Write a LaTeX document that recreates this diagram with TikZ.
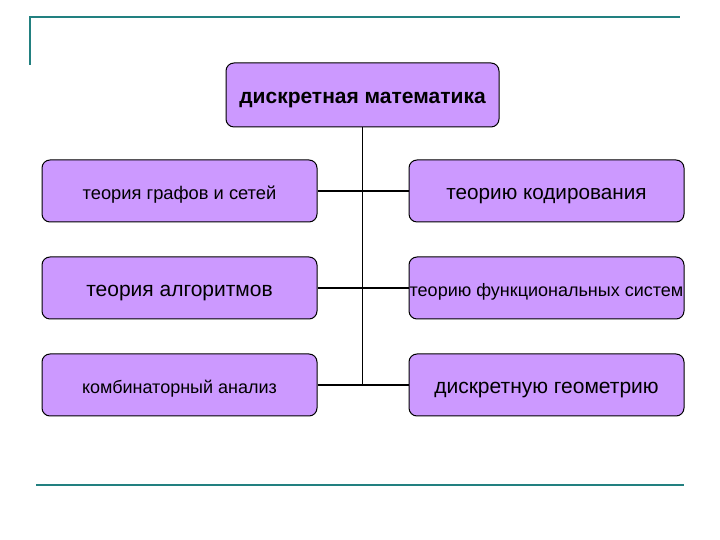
\documentclass[tikz,border=0pt]{standalone}
\usepackage{fontspec}
\setmainfont{Liberation Sans}
\usepackage{tikz}
\usetikzlibrary{positioning}

\definecolor{boxfill}{HTML}{CC99FF}
\definecolor{rule}{RGB}{34,128,128}

\begin{document}
\begin{tikzpicture}[
          x=1pt,y=1pt,
          node distance=34pt and 91pt,
          bx/.style={draw=black,line width=1pt,fill=boxfill,rounded corners=8pt,
            minimum width=275pt,minimum height=62pt,inner sep=0pt,
            text height=18pt,text depth=0pt},
          conn/.style={draw,line width=1.8pt}
            ]
    \useasboundingbox (0,0) rectangle (720,540);
    % frame lines
    \draw[rule,line width=2.4pt] (30,475) -- (30,523) -- (680,523);
    \draw[rule,line width=2.4pt] (36,55) -- (684,55);
    % boxes
    \node[bx,minimum width=273pt,minimum height=64pt,font=\bfseries\fontsize{21}{23}\selectfont] (dm) at (362.5,445) {дискретная математика};
    \node[bx,font=\fontsize{18.3}{20}\selectfont] (gr) at (179.5,349) {теория графов и сетей};
    \node[bx,below=of gr,font=\fontsize{21}{23}\selectfont] (alg) {теория алгоритмов};
    \node[bx,below=of alg,font=\fontsize{18}{20}\selectfont] (comb) {комбинаторный анализ};
    \node[bx,right=of gr,font=\fontsize{20.7}{23}\selectfont] (cod) {теорию кодирования};
    \node[bx,right=of alg,font=\fontsize{18}{20}\selectfont] (fun) {теорию функциональных систем};
    \node[bx,right=of comb,font=\fontsize{21}{23}\selectfont] (geo) {дискретную геометрию};
    % connectors
    \path[conn] (dm.south) -- (dm.south |- comb.east);
    \path[conn] (gr.east) -- (cod.west)
    (alg.east) -- (fun.west)
    (comb.east) -- (geo.west);
\end{tikzpicture}
\end{document}
